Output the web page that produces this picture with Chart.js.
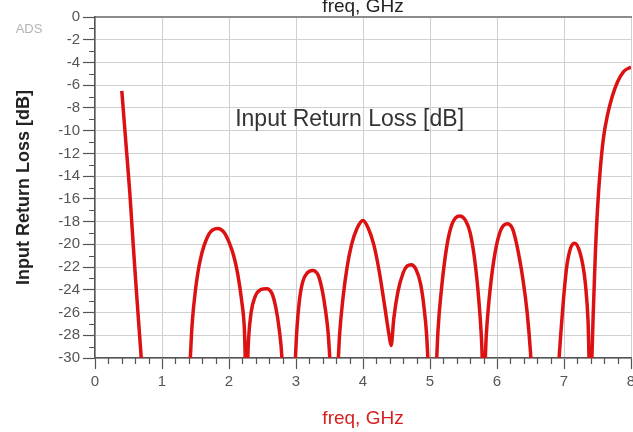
<!DOCTYPE html>
<html>
<head>
<meta charset="utf-8">
<script src="https://cdn.jsdelivr.net/npm/chart.js@4.4.1/dist/chart.umd.min.js"></script>
<style>
  html, body { margin: 0; padding: 0; background: #fff; }
  #wrap { width: 633px; height: 432px; position: relative; }
</style>
</head>
<body>
<div id="wrap"><canvas id="chart"></canvas></div>
<script>
// S11 trace; null breaks the line where it falls below -30 dB
const freqGHz = [
  0.40, 0.46, 0.52, 0.57, 0.62, 0.69, 0.71,
  1.00,
  1.41, 1.45, 1.50, 1.57, 1.70, 1.83, 1.92, 2.00, 2.07, 2.13, 2.19, 2.23, 2.26,
  2.29, 2.33, 2.39, 2.47, 2.56, 2.64, 2.70, 2.75, 2.79, 2.80,
  2.90,
  2.98, 3.01, 3.05, 3.10, 3.17, 3.25, 3.33, 3.39, 3.44, 3.48, 3.52,
  3.57,
  3.62, 3.65, 3.70, 3.76, 3.83, 3.91, 4.00, 4.08, 4.16, 4.24, 4.32, 4.39, 4.42,
  4.46, 4.52, 4.60, 4.66, 4.72, 4.79, 4.86, 4.91, 4.95, 4.98,
  5.03,
  5.09, 5.12, 5.17, 5.25, 5.33, 5.44, 5.53, 5.60, 5.67, 5.73, 5.77, 5.80,
  5.84, 5.88, 5.95, 6.04, 6.15, 6.23, 6.29, 6.39, 6.45, 6.50, 6.52,
  6.70,
  6.91, 6.95, 6.99, 7.04, 7.10, 7.16, 7.22, 7.28, 7.32, 7.36, 7.39,
  7.44, 7.47, 7.50, 7.54, 7.59, 7.65, 7.72, 7.80, 7.89, 8.00
];
const returnLossDb = [
  -6.5, -11.0, -15.5, -20.0, -24.3, -30.0, -31.5,
  null,
  -31.5, -27.0, -24.0, -21.4, -19.1, -18.6, -18.9, -19.8, -21.0, -22.6, -25.0, -27.5, -33.0,
  -28.5, -26.0, -24.6, -24.0, -23.9, -24.3, -25.6, -27.5, -30.0, -31.5,
  null,
  -31.5, -27.8, -25.0, -23.3, -22.5, -22.3, -22.7, -24.0, -25.8, -27.8, -31.5,
  null,
  -31.5, -28.0, -24.8, -22.1, -20.0, -18.6, -17.9, -18.6, -20.0, -22.3, -25.3, -28.0, -28.9,
  -26.5, -24.2, -22.5, -21.9, -21.8, -22.2, -23.5, -25.5, -28.0, -31.5,
  null,
  -31.5, -27.5, -24.0, -20.2, -18.2, -17.5, -17.9, -19.0, -21.5, -25.0, -28.5, -33.0,
  -28.0, -25.0, -21.5, -19.0, -18.2, -18.6, -19.9, -23.2, -26.0, -29.5, -31.5,
  null,
  -31.5, -28.0, -25.0, -22.0, -20.3, -19.9, -20.4, -21.8, -23.5, -26.9, -33.0,
  -25.5, -20.5, -16.9, -13.5, -10.6, -8.6, -7.0, -5.7, -4.8, -4.4
];

// axis ranges and tick spacing
const xRange = [0, 8];
const xMajorStep = 1;
const xMinorStep = 0.2;
const yRange = [-30, 0];
const yMajorStep = 2;
const yMinorStep = 1;

const axisTitle = 'freq, GHz';
const yTitle = 'Input Return Loss [dB]';
const traceLabel = 'Input Return Loss [dB]';

const points = freqGHz.map((f, i) => ({ x: f, y: returnLossDb[i] }));

const FONT = 'Liberation Sans, Arial, sans-serif';
const TICK_COLOR = '#555';

// short minor ticks between the labelled ones
const minorTicks = {
  id: 'minorTicks',
  afterDraw(chart) {
    const { ctx } = chart;
    const x = chart.scales.x, y = chart.scales.y;
    ctx.save();
    ctx.strokeStyle = TICK_COLOR;
    ctx.lineWidth = 1.2;
    ctx.beginPath();
    const nx = Math.round((xRange[1] - xRange[0]) / xMinorStep);
    for (let i = 0; i <= nx; i++) {
      const v = xRange[0] + i * xMinorStep;
      if (Math.abs(v / xMajorStep - Math.round(v / xMajorStep)) < 1e-6) continue;
      const px = Math.round(x.getPixelForValue(v)) + 0.5;
      ctx.moveTo(px, y.bottom);
      ctx.lineTo(px, y.bottom + 6);
    }
    const ny = Math.round((yRange[1] - yRange[0]) / yMinorStep);
    for (let i = 0; i <= ny; i++) {
      const v = yRange[0] + i * yMinorStep;
      if (Math.abs(v / yMajorStep - Math.round(v / yMajorStep)) < 1e-6) continue;
      const py = Math.round(y.getPixelForValue(v)) + 0.5;
      ctx.moveTo(x.left - 6, py);
      ctx.lineTo(x.left, py);
    }
    ctx.stroke();

    // "ADS" watermark in the corner
    ctx.fillStyle = '#b4b4b4';
    ctx.font = '13px ' + FONT;
    ctx.textAlign = 'center';
    ctx.textBaseline = 'middle';
    ctx.fillText('ADS', 29, 29);
    ctx.restore();
  }
};

// trace name written inside the plot
const traceName = {
  id: 'traceName',
  beforeDatasetsDraw(chart, args, opts) {
    const { ctx } = chart;
    ctx.save();
    ctx.fillStyle = '#333';
    ctx.font = '23px ' + FONT;
    ctx.textAlign = 'center';
    ctx.textBaseline = 'middle';
    ctx.fillText(opts.text, chart.scales.x.getPixelForValue(opts.x), chart.scales.y.getPixelForValue(opts.y));
    ctx.restore();
  }
};

new Chart(document.getElementById('chart'), {
  type: 'line',
  data: {
    datasets: [{
      label: traceLabel,
      data: points,
      borderColor: '#dc1212',
      borderWidth: 3.5,
      pointRadius: 0,
      cubicInterpolationMode: 'monotone',
      spanGaps: false,
      clip: 0
    }]
  },
  options: {
    responsive: true,
    maintainAspectRatio: false,
    animation: false,
    layout: { padding: { top: 0, right: 2, bottom: 0, left: 0 } },
    plugins: {
      legend: { display: false },
      tooltip: { enabled: false },
      traceName: { text: traceLabel, x: 3.8, y: -9 }
    },
    scales: {
      x: {
        type: 'linear',
        position: 'bottom',
        min: xRange[0],
        max: xRange[1],
        ticks: { stepSize: xMajorStep, color: TICK_COLOR, font: { family: FONT, size: 15 }, padding: 4, maxRotation: 0 },
        grid: { color: '#d0d0d0', lineWidth: 1, tickLength: 11, tickColor: TICK_COLOR, tickWidth: 1.2 },
        border: { color: '#555', width: 1.5 },
        title: { display: true, text: axisTitle, color: '#d42020', font: { family: FONT, size: 19 }, padding: { top: 0, bottom: 2 } },
        afterFit(scale) { scale.height = 74; scale.paddingLeft = 0; scale.paddingRight = 0; }
      },
      xTop: {
        type: 'linear',
        position: 'top',
        min: xRange[0],
        max: xRange[1],
        ticks: { display: false },
        grid: { display: false },
        border: { color: '#8c8c8c', width: 2 },
        title: { display: true, text: axisTitle, color: '#222', font: { family: FONT, size: 19 }, padding: { top: -5, bottom: 0 } },
        afterFit(scale) { scale.height = 17; scale.paddingLeft = 0; scale.paddingRight = 0; }
      },
      y: {
        type: 'linear',
        min: yRange[0],
        max: yRange[1],
        ticks: { stepSize: yMajorStep, color: TICK_COLOR, font: { family: FONT, size: 15 }, padding: 3 },
        grid: { color: '#d0d0d0', lineWidth: 1, tickLength: 12, tickColor: TICK_COLOR, tickWidth: 1.2 },
        border: { color: '#555', width: 1.5 },
        title: { display: true, text: yTitle, color: '#222', font: { family: FONT, size: 18, weight: 'bold' }, padding: { top: 13, bottom: 0 } },
        afterFit(scale) { scale.width = 95; }
      }
    }
  },
  plugins: [traceName, minorTicks]
});
</script>
</body>
</html>
